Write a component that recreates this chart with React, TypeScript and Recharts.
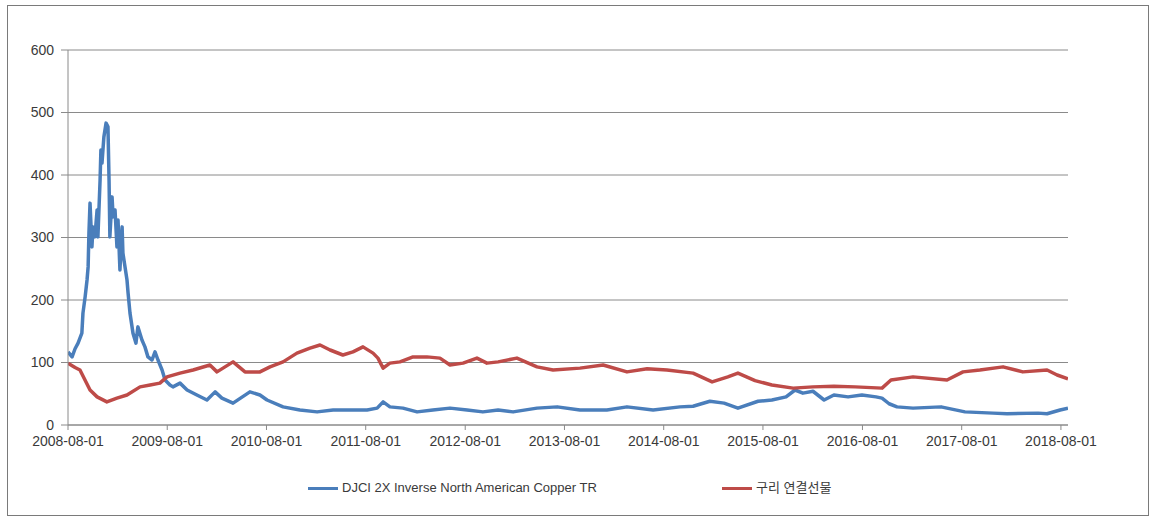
import { LineChart, Line, XAxis, YAxis, CartesianGrid } from 'recharts'

// DJCI 2X Inverse North American Copper TR
const blueDates = [
  '2008-08-01', '2008-08-16', '2008-08-27', '2008-09-07', '2008-09-21', '2008-09-25', '2008-10-03',
  '2008-10-10', '2008-10-14', '2008-10-17', '2008-10-21', '2008-10-28', '2008-11-01', '2008-11-08',
  '2008-11-16', '2008-11-19', '2008-11-27', '2008-11-30', '2008-12-04', '2008-12-11', '2008-12-19',
  '2008-12-26', '2008-12-30', '2009-01-02', '2009-01-10', '2009-01-14', '2009-01-21', '2009-01-28',
  '2009-02-01', '2009-02-08', '2009-02-16', '2009-02-19', '2009-03-06', '2009-03-10', '2009-03-17',
  '2009-03-28', '2009-04-08', '2009-04-15', '2009-04-30', '2009-05-11', '2009-05-22', '2009-06-06',
  '2009-06-17', '2009-06-28', '2009-07-13', '2009-07-24', '2009-08-11', '2009-08-22', '2009-09-17',
  '2009-10-13', '2009-11-18', '2009-12-25', '2010-01-24', '2010-02-18', '2010-03-31', '2010-06-01',
  '2010-07-08', '2010-08-03', '2010-10-01', '2010-12-02', '2011-02-03', '2011-04-03', '2011-06-04',
  '2011-08-06', '2011-09-12', '2011-10-04', '2011-10-29', '2011-12-16', '2012-02-06', '2012-04-04',
  '2012-06-06', '2012-08-08', '2012-10-05', '2012-11-30', '2013-01-24', '2013-04-22', '2013-07-05',
  '2013-09-27', '2014-01-04', '2014-03-19', '2014-06-23', '2014-09-30', '2014-11-17', '2015-01-18',
  '2015-03-11', '2015-05-01', '2015-07-14', '2015-09-03', '2015-10-25', '2015-11-27', '2015-12-26',
  '2016-02-01', '2016-03-13', '2016-04-18', '2016-06-09', '2016-07-30', '2016-09-20', '2016-10-12',
  '2016-11-07', '2016-12-06', '2017-02-03', '2017-05-17', '2017-08-13', '2017-11-24', '2018-01-15',
  '2018-05-09', '2018-06-11', '2018-07-29', '2018-08-27',
]
const blueValues = [
  117, 109, 122, 131, 147, 179, 205,
  232, 253, 307, 355, 285, 317, 301,
  344, 301, 392, 440, 419, 461, 483,
  477, 392, 301, 365, 333, 344, 285,
  328, 248, 317, 275, 232, 211, 179,
  147, 131, 157, 136, 125, 109, 104,
  117, 104, 88, 72, 64, 61, 67,
  56, 48, 40, 53, 43, 35, 53,
  48, 40, 29, 24, 21, 24, 24,
  24, 27, 37, 29, 27, 21, 24,
  27, 24, 21, 24, 21, 27, 29,
  24, 24, 29, 24, 29, 30, 38,
  35, 27, 38, 40, 45, 56, 51,
  54, 40, 48, 45, 48, 45, 43,
  34, 29, 27, 29, 21, 19, 18,
  19, 18, 24, 27,
]

// 구리 연결선물
const redDates = [
  '2008-08-01', '2008-08-27', '2008-09-14', '2008-10-21', '2008-11-16', '2008-12-22', '2009-01-28',
  '2009-03-06', '2009-04-23', '2009-05-30', '2009-07-05', '2009-07-31', '2009-09-17', '2009-11-04',
  '2010-01-05', '2010-01-31', '2010-03-31', '2010-05-14', '2010-07-08', '2010-08-14', '2010-10-01',
  '2010-11-21', '2011-01-08', '2011-02-14', '2011-03-23', '2011-05-09', '2011-06-15', '2011-07-22',
  '2011-08-28', '2011-09-15', '2011-10-04', '2011-10-29', '2011-12-05', '2012-01-22', '2012-03-13',
  '2012-04-30', '2012-06-06', '2012-07-24', '2012-09-13', '2012-10-20', '2012-11-30', '2013-02-07',
  '2013-04-22', '2013-06-20', '2013-09-27', '2013-12-21', '2014-03-19', '2014-06-01', '2014-08-13',
  '2014-11-17', '2015-01-26', '2015-03-25', '2015-05-01', '2015-07-03', '2015-09-03', '2015-11-20',
  '2016-02-01', '2016-04-18', '2016-07-05', '2016-10-12', '2016-11-14', '2017-02-03', '2017-06-08',
  '2017-08-06', '2017-10-07', '2017-12-31', '2018-03-14', '2018-06-11', '2018-07-18', '2018-08-27',
]
const redValues = [
  99, 92, 88, 56, 45, 37, 43,
  48, 61, 64, 67, 77, 83, 88,
  96, 85, 101, 85, 85, 93, 101,
  115, 123, 128, 120, 112, 117, 125,
  115, 107, 91, 99, 101, 109, 109,
  107, 96, 99, 107, 99, 101, 107,
  93, 88, 91, 96, 85, 90, 88,
  83, 69, 77, 83, 71, 64, 59,
  61, 62, 61, 59, 72, 77, 72,
  85, 88, 93, 85, 88, 80, 74,
]

const xTickLabels = [
  '2008-08-01', '2009-08-01', '2010-08-01', '2011-08-01', '2012-08-01', '2013-08-01',
  '2014-08-01', '2015-08-01', '2016-08-01', '2017-08-01', '2018-08-01',
]
const yTicks = [0, 100, 200, 300, 400, 500, 600]

const blueName = 'DJCI 2X Inverse North American Copper TR'
const redName = '구리 연결선물'

const toDay = (s: string) => Date.parse(s + 'T00:00:00Z')
const fmtDay = (t: number) => new Date(t).toISOString().slice(0, 10)

const blueData = blueDates.map((d, i) => ({ t: toDay(d), v: blueValues[i] }))
const redData = redDates.map((d, i) => ({ t: toDay(d), v: redValues[i] }))

const BLUE = '#4a7ebb'
const RED = '#be4b48'
const GRID = '#8a8a8a'
const FONT = '"Liberation Sans", Arial, "Noto Sans CJK KR", sans-serif'

export default function App() {
  return (
    <div
      style={{
        position: 'absolute',
        left: 7,
        top: 5,
        width: 1140,
        height: 509,
        border: '1px solid #7a7a7a',
        background: '#fff',
        fontFamily: FONT,
      }}
    >
      <LineChart width={1140} height={509} margin={{ top: 44, right: 80, left: 8, bottom: 60 }}>
        <CartesianGrid horizontal vertical={false} stroke={GRID} />
        <XAxis
          dataKey="t"
          type="number"
          domain={[toDay('2008-08-01'), toDay('2018-08-27')]}
          ticks={xTickLabels.map(toDay)}
          tickFormatter={fmtDay}
          allowDataOverflow
          height={30}
          tickSize={5}
          tickMargin={6}
          stroke={GRID}
          tick={{ fill: '#3a3a3a', fontSize: 14, fontFamily: FONT }}
        />
        <YAxis
          domain={[0, 600]}
          ticks={yTicks}
          width={52}
          tickSize={7}
          tickMargin={7}
          stroke={GRID}
          tick={{ fill: '#3a3a3a', fontSize: 14, fontFamily: FONT }}
        />
        <Line
          data={blueData}
          dataKey="v"
          name={blueName}
          type="linear"
          stroke={BLUE}
          strokeWidth={3.5}
          strokeLinejoin="round"
          dot={false}
          isAnimationActive={false}
        />
        <Line
          data={redData}
          dataKey="v"
          name={redName}
          type="linear"
          stroke={RED}
          strokeWidth={3.5}
          strokeLinejoin="round"
          dot={false}
          isAnimationActive={false}
        />
      </LineChart>

      {/* legend under the plot */}
      <div style={{ position: 'absolute', top: 473, left: 300, height: 18, display: 'flex', alignItems: 'center', fontSize: 13, lineHeight: '18px', color: '#3a3a3a' }}>
        <span style={{ display: 'inline-block', width: 30, height: 3, background: BLUE, marginRight: 4 }} />
        <span>{blueName}</span>
      </div>
      <div style={{ position: 'absolute', top: 473, left: 714, height: 18, display: 'flex', alignItems: 'center', fontSize: 13, lineHeight: '18px', color: '#3a3a3a' }}>
        <span style={{ display: 'inline-block', width: 30, height: 3, background: RED, marginRight: 4 }} />
        <span>{redName}</span>
      </div>
    </div>
  )
}
